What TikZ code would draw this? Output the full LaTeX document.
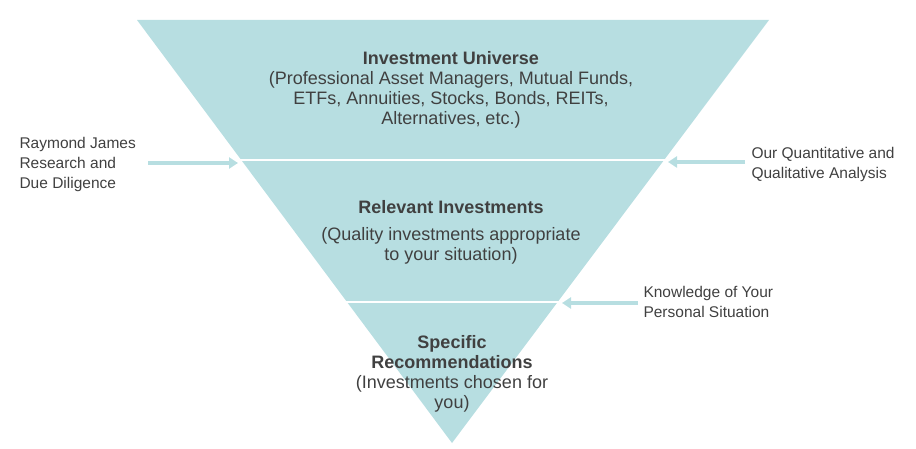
\documentclass[tikz,border=0pt]{standalone}
\usepackage{fontspec}
\setmainfont{Liberation Sans}
\usetikzlibrary{arrows.meta}
\definecolor{tri}{RGB}{183,222,225}
\definecolor{txt}{RGB}{64,64,64}
\tikzset{
  lbl/.style={text=txt,font=\fontsize{18}{20}\selectfont,align=center},
  side/.style={text=txt,font=\fontsize{15.5}{20}\selectfont,align=left,anchor=west},
  arr/.style={draw=tri,line width=3.5pt,-{Triangle[length=9pt,width=11pt]}}
}
\begin{document}
\begin{tikzpicture}[x=1pt,y=-1pt]
\useasboundingbox (0,0) rectangle (916,449);
\fill[tri] (137,20) -- (769,20) -- (452,443) -- cycle;
\draw[white,line width=2.5pt] (238,160) -- (667,160);
\draw[white,line width=2.5pt] (345,302) -- (560,302);
\node[lbl] (u) at (451,90) {\textbf{Investment Universe}\\(Professional Asset Managers, Mutual Funds,\\ETFs, Annuities, Stocks, Bonds, REITs,\\Alternatives, etc.)};
\node[lbl] (r) at (451,232) {\textbf{Relevant Investments}\\[7pt](Quality investments appropriate\\to your situation)};
\node[lbl] (s) at (452,374) {\textbf{Specific}\\\textbf{Recommendations}\\(Investments chosen for\\you)};
\node[side] (lt) at (16,164) {Raymond James\\Research and\\Due Diligence};
\node[side] (rt) at (748,164) {Our Quantitative and\\Qualitative Analysis};
\node[side] (kt) at (640,302) {Knowledge of Your\\Personal Situation};
\coordinate (la) at (148,163); \coordinate (lb) at (238,163);
\coordinate (ra) at (745,162); \coordinate (rb) at (668,162);
\coordinate (ka) at (638,303); \coordinate (kb) at (562,303);
\draw[arr] (la) -- (lb);
\draw[arr] (ra) -- (rb);
\draw[arr] (ka) -- (kb);
\end{tikzpicture}
\end{document}
